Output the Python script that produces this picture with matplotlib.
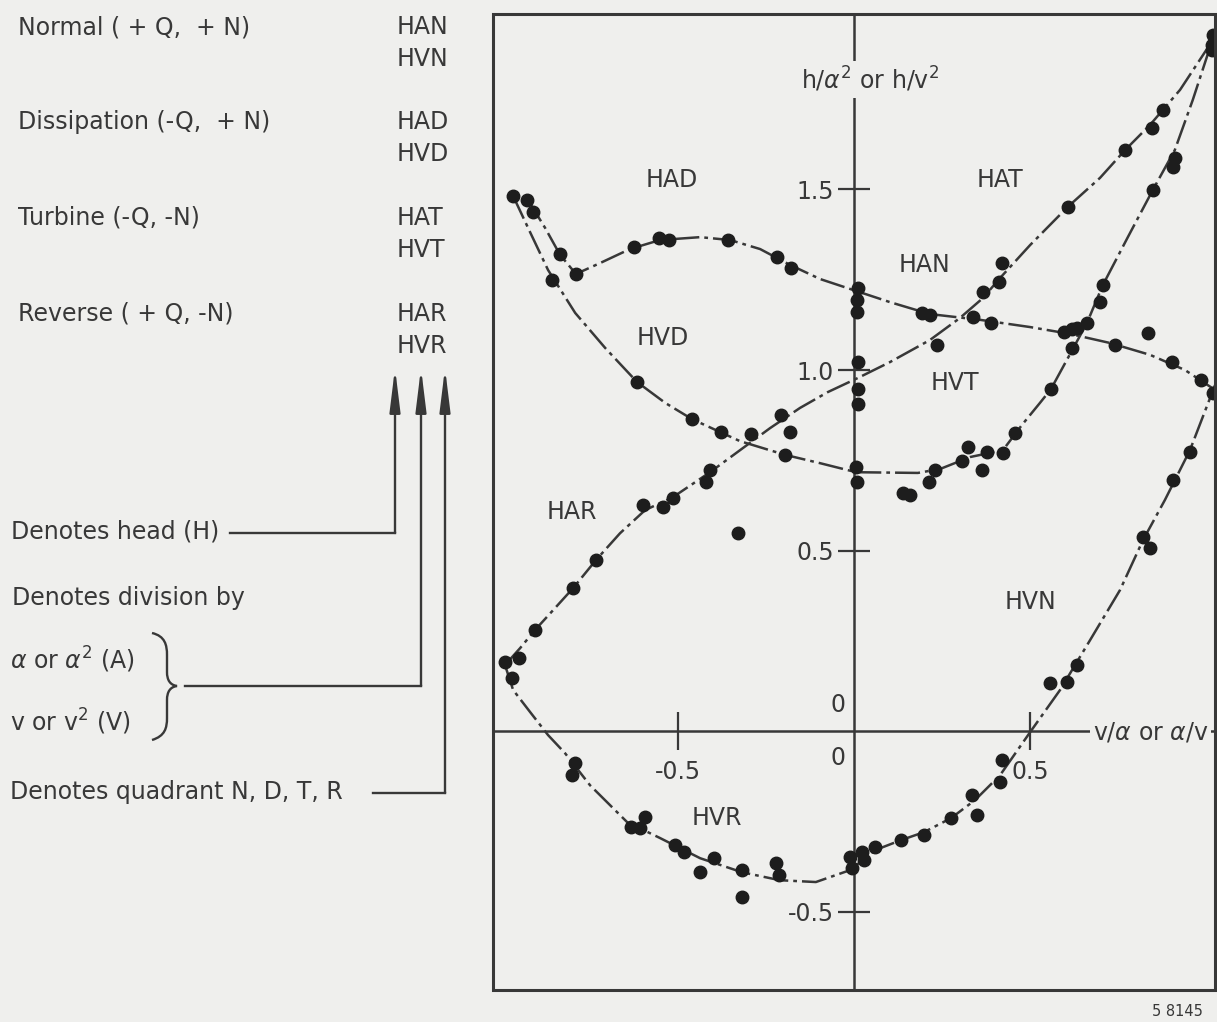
import matplotlib
matplotlib.use('Agg')
import matplotlib.pyplot as plt
from matplotlib.patches import Rectangle, PathPatch
from matplotlib.path import Path

# =====================================================================
# STYLE
# =====================================================================
BG = '#efefed'
INK = '#383838'
DOT = '#1d1d1d'
FS = 17
DASH = (0, (10, 2, 1.5, 2))

plt.rcParams['font.family'] = ['DejaVu Sans']
plt.rcParams['axes.unicode_minus'] = False

# =====================================================================
# DATA
# x = v/alpha or alpha/v, y = h/alpha^2 or h/v^2
# =====================================================================
# dissipation + normal, h/a^2 (HAD, HAN)
had_x = [-0.926, -0.909, -0.833, -0.788, -0.623, -0.552, -0.524, -0.357, -0.218, -0.178, 0.011, 0.008, 0.008]
had_y = [1.471, 1.438, 1.321, 1.266, 1.341, 1.366, 1.360, 1.360, 1.313, 1.283, 1.227, 1.194, 1.161]
han_x = [0.193, 0.215, 0.235, 0.337, 0.388, 0.595, 0.618, 0.739, 0.833, 0.901, 0.984, 1.017]
han_y = [1.158, 1.152, 1.069, 1.147, 1.130, 1.105, 1.114, 1.069, 1.102, 1.022, 0.972, 0.936]
curve_a_x = [-0.924, -0.875, -0.833, -0.788, -0.720, -0.635, -0.550, -0.436, -0.351, -0.266, -0.181,
             -0.096, 0.006, 0.102, 0.215, 0.357, 0.499, 0.612, 0.725, 0.839, 0.938, 1.023]
curve_a_y = [1.471, 1.393, 1.319, 1.266, 1.296, 1.335, 1.360, 1.368, 1.360, 1.335, 1.291,
             1.252, 1.219, 1.188, 1.155, 1.139, 1.119, 1.100, 1.075, 1.042, 1.000, 0.945]

# dissipation + turbine, h/v^2 (HVD, HVT)
hvd_x = [-0.966, -0.856, -0.615, -0.459, -0.377, -0.195, 0.006, 0.008]
hvd_y = [1.482, 1.249, 0.967, 0.864, 0.828, 0.765, 0.731, 0.690]
hvt_x = [0.139, 0.159, 0.212, 0.229, 0.306, 0.323, 0.363, 0.377, 0.422, 0.456, 0.558, 0.618,
         0.632, 0.660, 0.697, 0.705, 0.847, 0.904, 0.909, 1.014]
hvt_y = [0.659, 0.654, 0.690, 0.723, 0.748, 0.787, 0.723, 0.773, 0.770, 0.825, 0.947, 1.061,
         1.116, 1.130, 1.188, 1.235, 1.499, 1.562, 1.587, 1.900]
curve_b_x = [-0.966, -0.918, -0.867, -0.790, -0.705, -0.615, -0.535, -0.459, -0.323, -0.195, -0.096,
             0.006, 0.181, 0.244, 0.329, 0.422, 0.476, 0.527, 0.558, 0.606, 0.660, 0.705, 0.776,
             0.847, 0.909, 0.960, 1.014]
curve_b_y = [1.482, 1.382, 1.277, 1.158, 1.061, 0.967, 0.909, 0.864, 0.803, 0.765, 0.742,
             0.717, 0.715, 0.726, 0.759, 0.778, 0.848, 0.909, 0.947, 1.033, 1.130, 1.235, 1.368,
             1.499, 1.609, 1.748, 1.909]

# reverse + turbine, h/a^2 (HAR, HAT)
har_x = [-0.989, -0.949, -0.904, -0.796, -0.731, -0.598, -0.541, -0.513, -0.419, -0.408, -0.329,
         -0.292, -0.207, -0.181, 0.011, 0.011, 0.011]
har_y = [0.191, 0.202, 0.280, 0.396, 0.474, 0.626, 0.620, 0.645, 0.690, 0.723, 0.548,
         0.823, 0.875, 0.828, 1.022, 0.948, 0.906]
hat_x = [0.365, 0.411, 0.419, 0.606, 0.768, 0.844, 0.875, 1.014, 1.017]
hat_y = [1.216, 1.244, 1.296, 1.452, 1.609, 1.670, 1.720, 1.886, 1.928]
curve_c_x = [-0.989, -0.946, -0.904, -0.847, -0.796, -0.731, -0.663, -0.592, -0.513, -0.408, -0.323,
             -0.238, -0.153, -0.074, 0.011, 0.102, 0.215, 0.300, 0.365, 0.414, 0.499, 0.606,
             0.697, 0.768, 0.839, 0.924, 1.017]
curve_c_y = [0.183, 0.230, 0.280, 0.341, 0.396, 0.474, 0.548, 0.612, 0.648, 0.717, 0.778,
             0.839, 0.895, 0.939, 0.978, 1.022, 1.083, 1.144, 1.199, 1.255, 1.346, 1.452,
             1.532, 1.609, 1.679, 1.776, 1.914]

# reverse + normal, h/v^2 (HVR, HVN)
hvr_x = [-0.969, -0.790, -0.799, -0.632, -0.606, -0.592, -0.507, -0.482, -0.436, -0.397, -0.317,
         -0.317, -0.221, -0.212, -0.011, -0.006]
hvr_y = [0.147, -0.089, -0.122, -0.266, -0.269, -0.238, -0.316, -0.335, -0.391, -0.352, -0.385,
         -0.460, -0.366, -0.399, -0.349, -0.380]
hvn_x = [0.023, 0.028, 0.059, 0.133, 0.198, 0.275, 0.348, 0.334, 0.414, 0.419, 0.555, 0.603,
         0.632, 0.819, 0.839, 0.904, 0.952]
hvn_y = [-0.335, -0.357, -0.321, -0.302, -0.288, -0.241, -0.233, -0.177, -0.141, -0.080, 0.133, 0.136,
         0.183, 0.537, 0.507, 0.695, 0.773]
curve_d_x = [-0.989, -0.966, -0.918, -0.867, -0.819, -0.748, -0.643, -0.550, -0.436, -0.317, -0.210,
             -0.108, -0.011, 0.059, 0.133, 0.198, 0.275, 0.343, 0.414, 0.499, 0.584, 0.669,
             0.754, 0.819, 0.881, 0.952, 1.023]
curve_d_y = [0.183, 0.114, 0.053, -0.011, -0.061, -0.150, -0.252, -0.296, -0.352, -0.391, -0.413,
             -0.418, -0.385, -0.330, -0.302, -0.280, -0.241, -0.191, -0.122, -0.003, 0.114, 0.252,
             0.391, 0.529, 0.640, 0.778, 0.958]

# region labels
region_names = ['HAD', 'HAT', 'HAN', 'HVD', 'HVT', 'HAR', 'HVN', 'HVR']
region_x = [-0.516, 0.414, 0.201, -0.541, 0.286, -0.799, 0.499, -0.388]
region_y = [1.526, 1.526, 1.291, 1.089, 0.964, 0.607, 0.357, -0.241]

x_ticks = [-0.5, 0.5]
x_tick_labels = ['-0.5', '0.5']
y_ticks = [-0.5, 0.5, 1.0, 1.5]
y_tick_labels = ['-0.5', '0.5', '1.0', '1.5']

quadrant_names = ['Normal ( + Q,  + N)', 'Dissipation (-Q,  + N)', 'Turbine (-Q, -N)', 'Reverse ( + Q, -N)']
quadrant_codes = [('HAN', 'HVN'), ('HAD', 'HVD'), ('HAT', 'HVT'), ('HAR', 'HVR')]


# =====================================================================
# LEFT-HAND KEY (drawn in pixel coordinates on a full-figure overlay)
# =====================================================================
def draw_key(ax0):
    ax0.set_xlim(0, 1217)
    ax0.set_ylim(1022, 0)
    ax0.axis('off')

    row_y = [27, 122, 218, 314]
    for name, codes, yy in zip(quadrant_names, quadrant_codes, row_y):
        ax0.text(18, yy, name, fontsize=FS, color=INK, ha='left', va='center')
        ax0.text(397, yy, codes[0], fontsize=FS, color=INK, ha='left', va='center')
        ax0.text(397, yy + 32, codes[1], fontsize=FS, color=INK, ha='left', va='center')

    ax0.text(11, 532, 'Denotes head (H)', fontsize=FS, color=INK, ha='left', va='center')
    ax0.text(12, 598, 'Denotes division by', fontsize=FS, color=INK, ha='left', va='center')
    ax0.text(10, 660, r'$\alpha$ or $\alpha^2$ (A)', fontsize=FS, color=INK, ha='left', va='center')
    ax0.text(10, 722, r'v or v$^2$ (V)', fontsize=FS, color=INK, ha='left', va='center')
    ax0.text(10, 792, 'Denotes quadrant N, D, T, R', fontsize=FS, color=INK, ha='left', va='center')

    # brace
    verts = [(152, 633), (165, 636), (167, 645), (167, 655), (167, 672),
             (167, 680), (170, 685), (177, 686), (170, 687), (167, 692), (167, 700),
             (167, 718), (167, 728), (165, 736), (152, 740)]
    codes = [Path.MOVETO, Path.CURVE4, Path.CURVE4, Path.CURVE4, Path.LINETO,
             Path.CURVE4, Path.CURVE4, Path.CURVE4, Path.CURVE4, Path.CURVE4, Path.CURVE4,
             Path.LINETO, Path.CURVE4, Path.CURVE4, Path.CURVE4]
    ax0.add_patch(PathPatch(Path(verts, codes), fill=False, lw=1.7, ec=INK))

    # leader lines + arrows up to the code letters
    leaders = [(230, 395, 533), (185, 421, 686), (373, 445, 793)]
    for x_start, x_arrow, y_line in leaders:
        ax0.plot([x_start, x_arrow], [y_line, y_line], color=INK, lw=1.7, solid_capstyle='projecting')
        ax0.annotate('', xy=(x_arrow, 368), xytext=(x_arrow, y_line),
                     arrowprops=dict(arrowstyle='-|>,head_length=1.3,head_width=0.16',
                                     mutation_scale=20, lw=1.7, color=INK,
                                     shrinkA=0, shrinkB=0))

    ax0.text(1203, 1011, '5 8145', fontsize=10.5, color=INK, ha='right', va='center')


# =====================================================================
# MAIN CHART
# =====================================================================
def draw_curve(ax, fit_x, fit_y, point_sets):
    ax.plot(fit_x, fit_y, color=INK, lw=1.8, ls=DASH, zorder=3)
    for px, py in point_sets:
        ax.plot(px, py, 'o', ms=9, color=DOT, mec=DOT, zorder=4)


def draw_chart(ax):
    ax.set_xlim(-1.023, 1.023)
    ax.set_ylim(-0.717, 1.986)
    ax.patch.set_alpha(0)

    for side in ['top', 'right']:
        ax.spines[side].set_visible(False)
    ax.spines['left'].set_position(('data', 0))
    ax.spines['bottom'].set_position(('data', 0))
    for side in ['left', 'bottom']:
        ax.spines[side].set_linewidth(1.8)
        ax.spines[side].set_color(INK)
    ax.add_patch(Rectangle((0, 0), 1, 1, transform=ax.transAxes, fill=False,
                           lw=2.2, ec=INK, clip_on=False, zorder=5))

    ax.set_xticks(x_ticks)
    ax.set_xticklabels(x_tick_labels)
    ax.set_yticks(y_ticks)
    ax.set_yticklabels(y_tick_labels)
    ax.tick_params(axis='x', direction='inout', length=28, width=1.6, pad=7,
                   labelsize=FS, colors=INK)
    ax.tick_params(axis='y', direction='inout', length=23, width=1.6, pad=3,
                   labelsize=FS, colors=INK)

    ax.text(-0.045, 0.072, '0', fontsize=FS, color=INK, ha='center', va='center')
    ax.text(-0.045, -0.075, '0', fontsize=FS, color=INK, ha='center', va='center')

    ax.text(0.045, 1.805, r'h/$\alpha^2$ or h/v$^2$', fontsize=FS, color=INK, ha='center', va='center',
            bbox=dict(fc=BG, ec='none', pad=3), zorder=6)
    ax.text(0.676, -0.003, r'v/$\alpha$ or $\alpha$/v', fontsize=FS, color=INK, ha='left', va='center',
            bbox=dict(fc=BG, ec='none', pad=2), zorder=6)

    draw_curve(ax, curve_a_x, curve_a_y, [(had_x, had_y), (han_x, han_y)])
    draw_curve(ax, curve_b_x, curve_b_y, [(hvd_x, hvd_y), (hvt_x, hvt_y)])
    draw_curve(ax, curve_c_x, curve_c_y, [(har_x, har_y), (hat_x, hat_y)])
    draw_curve(ax, curve_d_x, curve_d_y, [(hvr_x, hvr_y), (hvn_x, hvn_y)])

    for name, rx, ry in zip(region_names, region_x, region_y):
        ax.text(rx, ry, name, fontsize=FS, color=INK, ha='center', va='center')


if __name__ == '__main__':
    fig = plt.figure(figsize=(12.17, 10.22), dpi=100, facecolor=BG)
    ax0 = fig.add_axes([0, 0, 1, 1])
    draw_key(ax0)
    ax = fig.add_axes([493 / 1217, 32 / 1022, 722 / 1217, 976 / 1022])
    draw_chart(ax)
    fig.savefig('out.png', dpi=100, facecolor=BG)
